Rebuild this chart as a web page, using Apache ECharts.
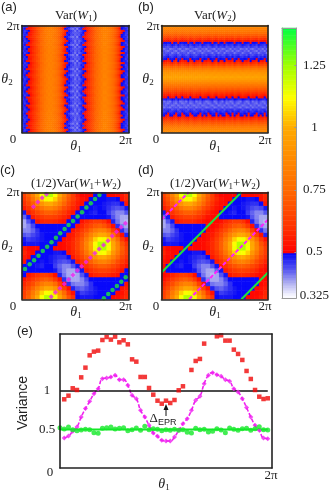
<!DOCTYPE html>
<html><head><meta charset="utf-8">
<style>html,body{margin:0;padding:0;background:#fff}#c{width:332px;height:492px}</style>
<script src="https://cdn.jsdelivr.net/npm/echarts@6/dist/echarts.min.js"></script>
</head><body><div id="c"></div>
<script>
// Panel (a): Var(W1) by theta1 column, four read-off row profiles
const varW1a = [.47,.46,.49,.52,.55,.58,.62,.66,.7,.74,.77,.8,.82,.83,.83,.82,.8,.77,.73,.68,.62,.55,.49,.47,.45,.43,.43,.43,.44,.46,.49,.53,.56,.6,.65,.69,.73,.76,.79,.82,.84,.84,.83,.81,.78,.75,.71,.66,.6,.53,.49,.46,.45];
const varW1b = [.46,.48,.52,.54,.57,.6,.63,.68,.71,.75,.78,.8,.83,.82,.84,.81,.79,.76,.72,.66,.59,.49,.48,.45,.42,.41,.44,.40,.46,.47,.52,.55,.58,.62,.66,.7,.74,.75,.8,.81,.85,.85,.82,.8,.77,.74,.69,.63,.55,.49,.47,.47,.44];
const varW1c = [.48,.45,.47,.49,.53,.57,.61,.65,.7,.73,.76,.81,.81,.84,.82,.83,.81,.78,.74,.7,.64,.57,.52,.48,.46,.44,.41,.45,.42,.45,.48,.49,.54,.59,.64,.68,.72,.77,.78,.83,.83,.83,.84,.82,.79,.76,.72,.67,.61,.55,.51,.47,.46];
const varW1d = [.45,.47,.46,.51,.54,.59,.63,.66,.69,.75,.77,.79,.82,.84,.83,.82,.79,.78,.74,.69,.6,.53,.47,.49,.44,.45,.42,.44,.43,.48,.46,.51,.58,.61,.66,.68,.74,.76,.8,.81,.85,.85,.83,.81,.78,.74,.7,.65,.58,.49,.48,.45,.46];
const rowOrderA = [0,2,1,3,1,0,2,3,0,1,3,2,0,1,2,0,3,1,2,3,1,0,2,1,3,0,2,3,1,0,2,1,0,3,2,1,3,0,1,2,3,0,2,1,3,2,0,1,3,0,2,1,3];
// Panel (b): Var(W2) by theta2 row bottom to top, four read-off column profiles
const varW2a = [.87,.85,.82,.77,.72,.67,.61,.56,.52,.49,.47,.45,.43,.42,.42,.43,.48,.52,.56,.6,.65,.7,.75,.8,.85,.9,.94,.96,.95,.92,.88,.82,.75,.67,.6,.54,.49,.47,.45,.43,.42,.43,.44,.47,.49,.54,.6,.67,.72,.77,.81,.84,.87];
const varW2b = [.86,.86,.81,.76,.7,.65,.58,.53,.49,.47,.46,.43,.44,.41,.44,.45,.49,.54,.58,.62,.66,.71,.76,.79,.86,.89,.95,.96,.94,.93,.87,.81,.73,.64,.56,.49,.48,.45,.44,.41,.44,.42,.46,.48,.52,.57,.63,.69,.73,.78,.82,.83,.88];
const varW2c = [.88,.84,.83,.78,.73,.68,.63,.58,.54,.51,.48,.46,.42,.44,.41,.42,.46,.49,.53,.58,.64,.69,.74,.81,.84,.91,.93,.97,.95,.91,.88,.83,.76,.69,.63,.56,.51,.48,.46,.44,.41,.44,.43,.45,.48,.52,.58,.65,.71,.76,.8,.84,.86];
const varW2d = [.86,.85,.82,.77,.71,.66,.6,.55,.49,.48,.45,.46,.41,.43,.43,.41,.47,.51,.55,.59,.66,.71,.75,.79,.85,.9,.94,.98,.93,.92,.89,.82,.74,.66,.59,.52,.48,.46,.43,.44,.43,.41,.45,.46,.49,.53,.61,.66,.72,.78,.81,.84,.87];
const colOrderB = [1,3,0,2,3,1,0,2,1,3,2,0,3,1,2,0,1,3,0,2,1,0,3,2,0,1,3,2,1,0,3,1,2,0,3,2,1,0,2,3,1,0,3,2,1,3,0,2,1,0,3,2,1];
// Panel (c): (1/2)Var(W1+W2) measured, rows bottom to top
const varSumC = [
[.64,.72,.85,.99,1.12,1.22,1.22,1.13,.98,.84,.69,.60,.49,.48,.48,.48,.49,.49,.49,.49,.51,.52,.55,.58],
[.63,.70,.81,.92,1.05,1.12,1.13,1.05,.91,.76,.62,.53,.48,.45,.46,.47,.48,.49,.49,.49,.49,.51,.53,.57],
[.60,.66,.74,.84,.92,.99,.98,.91,.78,.64,.53,.47,.43,.42,.44,.46,.48,.49,.49,.49,.49,.49,.53,.55],
[.57,.62,.67,.74,.81,.85,.84,.76,.64,.53,.46,.41,.40,.40,.42,.46,.49,.49,.49,.49,.49,.49,.49,.53],
[.53,.57,.62,.66,.70,.72,.69,.62,.53,.46,.40,.38,.38,.40,.44,.49,.49,.49,.49,.49,.49,.49,.49,.49],
[.49,.53,.57,.60,.63,.63,.60,.53,.47,.41,.38,.37,.38,.43,.48,.54,.57,.58,.58,.57,.55,.53,.49,.49],
[.49,.49,.49,.49,.49,.49,.49,.48,.43,.40,.38,.38,.42,.48,.55,.59,.62,.64,.64,.63,.60,.57,.53,.49],
[.49,.49,.49,.48,.47,.49,.49,.45,.42,.40,.40,.43,.48,.55,.60,.65,.69,.72,.72,.70,.66,.62,.57,.53],
[.53,.49,.49,.49,.48,.49,.48,.46,.44,.43,.44,.48,.55,.60,.66,.72,.79,.84,.85,.81,.74,.67,.62,.57],
[.55,.52,.49,.49,.49,.49,.48,.47,.46,.46,.49,.54,.59,.65,.72,.83,.91,.98,.99,.92,.84,.74,.66,.60],
[.57,.53,.51,.49,.49,.49,.49,.48,.48,.49,.53,.57,.62,.69,.79,.91,1.05,1.13,1.12,1.05,.92,.81,.70,.63],
[.55,.51,.51,.51,.49,.49,.49,.51,.51,.52,.54,.58,.64,.72,.84,.98,1.13,1.22,1.22,1.12,.99,.85,.72,.63],
[.49,.48,.48,.48,.49,.49,.49,.49,.51,.52,.55,.58,.64,.72,.85,.99,1.12,1.22,1.22,1.13,.98,.84,.69,.60],
[.48,.45,.46,.47,.48,.49,.49,.49,.49,.51,.53,.57,.63,.70,.81,.92,1.05,1.12,1.13,1.05,.91,.76,.62,.53],
[.43,.42,.44,.46,.48,.49,.49,.49,.49,.49,.53,.55,.60,.66,.74,.84,.92,.99,.98,.91,.78,.64,.53,.47],
[.40,.40,.42,.46,.49,.49,.49,.49,.49,.49,.49,.53,.57,.62,.67,.74,.81,.85,.84,.76,.64,.53,.46,.41],
[.38,.40,.44,.49,.49,.49,.49,.49,.49,.49,.49,.49,.53,.57,.62,.66,.70,.72,.69,.62,.53,.46,.40,.38],
[.38,.43,.48,.54,.57,.58,.58,.57,.55,.53,.49,.49,.49,.53,.57,.60,.63,.63,.60,.53,.47,.41,.38,.37],
[.42,.48,.55,.59,.62,.64,.64,.63,.60,.57,.53,.49,.49,.49,.49,.49,.49,.49,.49,.48,.43,.40,.38,.38],
[.48,.55,.60,.65,.69,.72,.72,.70,.66,.62,.57,.53,.49,.49,.49,.48,.47,.49,.49,.45,.42,.40,.40,.43],
[.55,.60,.66,.72,.79,.84,.85,.81,.74,.67,.62,.57,.53,.49,.49,.49,.48,.49,.48,.46,.44,.43,.44,.48],
[.59,.65,.72,.83,.91,.98,.99,.92,.84,.74,.66,.60,.55,.52,.49,.49,.49,.49,.48,.47,.46,.46,.49,.54],
[.62,.69,.79,.91,1.05,1.13,1.12,1.05,.92,.81,.70,.63,.57,.53,.51,.49,.49,.49,.49,.48,.48,.49,.53,.57],
[.64,.72,.84,.98,1.13,1.22,1.22,1.12,.99,.85,.72,.63,.55,.51,.51,.51,.49,.49,.49,.51,.51,.52,.54,.58]
];
// Panel (d): (1/2)Var(W1+W2) theory, rows bottom to top
const varSumD = [
[.64,.72,.85,.99,1.12,1.22,1.22,1.13,.98,.84,.69,.60,.49,.48,.48,.48,.49,.49,.49,.51,.51,.52,.55,.58],
[.63,.70,.81,.92,1.05,1.12,1.13,1.05,.91,.76,.62,.53,.48,.45,.46,.47,.48,.49,.49,.49,.51,.51,.53,.57],
[.60,.66,.74,.84,.92,.99,.98,.91,.78,.64,.53,.47,.43,.42,.44,.46,.48,.49,.49,.49,.49,.51,.53,.55],
[.57,.62,.67,.74,.81,.85,.84,.76,.64,.53,.46,.41,.40,.40,.42,.46,.49,.49,.49,.49,.49,.49,.51,.53],
[.53,.57,.62,.66,.70,.72,.69,.62,.53,.46,.40,.38,.38,.40,.44,.49,.49,.49,.49,.49,.49,.49,.51,.51],
[.51,.53,.57,.60,.63,.63,.60,.53,.47,.41,.38,.37,.38,.43,.48,.54,.57,.58,.58,.57,.55,.53,.51,.51],
[.51,.49,.49,.49,.49,.49,.49,.48,.43,.40,.38,.38,.42,.48,.55,.59,.62,.64,.64,.63,.60,.57,.53,.51],
[.51,.49,.49,.48,.47,.49,.49,.45,.42,.40,.40,.43,.48,.55,.60,.65,.69,.72,.72,.70,.66,.62,.57,.53],
[.53,.51,.49,.49,.48,.49,.48,.46,.44,.43,.44,.48,.55,.60,.66,.72,.79,.84,.85,.81,.74,.67,.62,.57],
[.55,.52,.51,.49,.49,.49,.48,.47,.46,.46,.49,.54,.59,.65,.72,.83,.91,.98,.99,.92,.84,.74,.66,.60],
[.57,.53,.51,.51,.49,.49,.49,.48,.48,.49,.53,.57,.62,.69,.79,.91,1.05,1.13,1.12,1.05,.92,.81,.70,.63],
[.55,.51,.51,.51,.51,.49,.51,.51,.51,.52,.54,.58,.64,.72,.84,.98,1.13,1.22,1.22,1.12,.99,.85,.72,.63],
[.49,.48,.48,.48,.49,.49,.49,.51,.51,.52,.55,.58,.64,.72,.85,.99,1.12,1.22,1.22,1.13,.98,.84,.69,.60],
[.48,.45,.46,.47,.48,.49,.49,.49,.51,.51,.53,.57,.63,.70,.81,.92,1.05,1.12,1.13,1.05,.91,.76,.62,.53],
[.43,.42,.44,.46,.48,.49,.49,.49,.49,.51,.53,.55,.60,.66,.74,.84,.92,.99,.98,.91,.78,.64,.53,.47],
[.40,.40,.42,.46,.49,.49,.49,.49,.49,.49,.51,.53,.57,.62,.67,.74,.81,.85,.84,.76,.64,.53,.46,.41],
[.38,.40,.44,.49,.49,.49,.49,.49,.49,.49,.51,.51,.53,.57,.62,.66,.70,.72,.69,.62,.53,.46,.40,.38],
[.38,.43,.48,.54,.57,.58,.58,.57,.55,.53,.51,.51,.51,.53,.57,.60,.63,.63,.60,.53,.47,.41,.38,.37],
[.42,.48,.55,.59,.62,.64,.64,.63,.60,.57,.53,.51,.51,.49,.49,.49,.49,.49,.49,.48,.43,.40,.38,.38],
[.48,.55,.60,.65,.69,.72,.72,.70,.66,.62,.57,.53,.51,.49,.49,.48,.47,.49,.49,.45,.42,.40,.40,.43],
[.55,.60,.66,.72,.79,.84,.85,.81,.74,.67,.62,.57,.53,.51,.49,.49,.48,.49,.48,.46,.44,.43,.44,.48],
[.59,.65,.72,.83,.91,.98,.99,.92,.84,.74,.66,.60,.55,.52,.51,.49,.49,.49,.48,.47,.46,.46,.49,.54],
[.62,.69,.79,.91,1.05,1.13,1.12,1.05,.92,.81,.70,.63,.57,.53,.51,.51,.49,.49,.49,.48,.48,.49,.53,.57],
[.64,.72,.84,.98,1.13,1.22,1.22,1.12,.99,.85,.72,.63,.55,.51,.51,.51,.51,.49,.51,.51,.51,.52,.54,.58]
];
// Panel (c) measured points, fractions of 2*pi
const cGreenX = [.028,.072,.113,.154,.194,.235,.276,.317,.357,.398,.436,.476,.52,.561,.602,.643,.683,.724,.765,.806,.846,.887,.928,.969];
const cGreenY = [.283,.327,.364,.408,.452,.492,.533,.576,.617,.657,.695,.732,.773,.813,.857,.897,.938,.975,.009,.05,.087,.125,.165,.206];
const cMagX = [.273,.313,.354,.395,.436,.476,.517,.558,.599,.639,.68,.721,.762,.803,.843,.884,.925,.966,.107,.147,.188,.229];
const cMagY = [.025,.065,.103,.143,.184,.227,.268,.308,.349,.389,.43,.47,.508,.548,.592,.632,.673,.71,.866,.91,.95,.981];
// Panel (d) lines, fractions of 2*pi
const dGreenLines = [[[0,.25],[.75,1]],[[.75,0],[1,.25]]];
const dMagLines = [[[.26,0],[1,.745]],[[0,.745],[.255,1]]];
// Panel (e), samples 1..49 for red and magenta, 0..49 for green
const redVals = [.892,.939,1.035,1.013,1.177,1.303,1.463,1.511,1.524,1.662,1.701,1.667,1.706,1.632,1.658,1.606,1.411,1.381,1.182,1.182,1.039,.952,.874,.835,.874,.844,.883,1.009,1.061,null,1.273,1.39,1.416,1.615,null,null,1.71,1.723,1.654,1.654,1.537,1.481,1.403,1.26,1.156,1.013,.926,.896,.905];
const magVals = [.39,.416,.476,.532,.662,.771,.866,.965,1.03,1.16,1.169,1.182,1.203,1.147,1.147,1.074,.944,.9,.749,.662,.554,.455,.411,.359,.351,.351,.403,.489,.576,.641,.749,.879,.931,1.095,1.203,1.238,1.212,1.19,1.147,1.126,1.03,.987,.9,.784,.662,.554,.489,.39,.381];
const greenVals = [.524,.506,.532,.498,.485,.494,.502,.498,.459,.45,.515,.524,.532,.506,.515,.524,.485,.498,.519,.489,.541,.498,.511,.502,.485,.498,.489,.502,.489,.498,.463,.455,.515,.498,.502,.468,.476,.511,.494,.459,.519,.502,.489,.511,.515,.489,.511,.537,.498,.494];
const refOne = [1,1], refHalf = [.5,.5];
// Tick labels
const colorTicks = [.325,.5,.75,1,1.25];
const varianceTicks = [.5,1];
const twoPi = '2π', zero = '0';
// Colour scale
const colorStops = [[.315,'#ffffff'],[.33,'#f8f8ff'],[.38,'#b0b0f0'],[.43,'#5a5af0'],[.49,'#1010f4'],[.5,'#0000ff'],[.5,'#ff0000'],[.6,'#ff3000'],[.75,'#ff6800'],[.9,'#ff9000'],[1,'#ffaa00'],[1.12,'#ffff00'],[1.25,'#a0ff00'],[1.4,'#00ff40']];

function hex(c){return [1,3,5].map(i=>parseInt(c.substr(i,2),16));}
function colorAt(v){
  for(let i=1;i<colorStops.length;i++){
    const a=colorStops[i-1],b=colorStops[i];
    if(v<=b[0] && b[0]>a[0]){const t=Math.max(0,(v-a[0])/(b[0]-a[0]));const p=hex(a[1]),q=hex(b[1]);
      return 'rgb('+p.map((x,k)=>Math.round(x+(q[k]-x)*t)).join(',')+')';}
  }
  return colorStops[colorStops.length-1][1];
}
const pieces=[];
for(let k=0;k<120;k++){const lo=+(.29+k*.01).toFixed(2),hi=+(lo+.01).toFixed(2);pieces.push({gte:lo,lt:hi,color:colorAt(lo+.005)});}

const grids=[{left:22,top:25.5,width:107,height:107},{left:161.5,top:25.5,width:106.5,height:107},{left:22,top:192.3,width:107,height:107},{left:161.5,top:192.3,width:106.5,height:107},{left:282,top:28,width:16.5,height:270},{left:60,top:334,width:212,height:134}];
const xAxis=[],yAxis=[],series=[];
const range=n=>Array.from({length:n},(_,i)=>i);
const hidden={axisTick:{show:false},axisLabel:{show:false},splitLine:{show:false}};
function line(c,w){return {show:true,onZero:false,lineStyle:{color:c,width:w}};}
function panelAxes(g,nx,ny,c,w){
  xAxis.push({type:'category',gridIndex:g,data:range(nx).map(String),position:'bottom',axisLine:line(c,w),z:10,...hidden});
  xAxis.push({type:'value',gridIndex:g,min:0,max:1,position:'top',axisLine:line(c,w),z:10,...hidden});
  yAxis.push({type:'category',gridIndex:g,data:range(ny).map(String),position:'left',axisLine:line(c,w),z:10,...hidden});
  yAxis.push({type:'value',gridIndex:g,min:0,max:1,position:'right',axisLine:line(c,w),z:10,...hidden});
}
const heat=(g,data)=>series.push({type:'heatmap',xAxisIndex:2*g,yAxisIndex:2*g,data,itemStyle:{borderWidth:0},emphasis:{disabled:true},progressive:0,silent:true});
panelAxes(0,53,53,'#222',1.6);
panelAxes(1,53,53,'#222',1.6);
panelAxes(2,24,24,'#222',1.6);
panelAxes(3,24,24,'#222',1.6);
const profA=[varW1a,varW1b,varW1c,varW1d],profB=[varW2a,varW2b,varW2c,varW2d];
const dA=[],dB=[];
rowOrderA.forEach((p,k)=>profA[p].forEach((v,i)=>dA.push([i,k,v])));
colOrderB.forEach((p,i)=>profB[p].forEach((v,k)=>dB.push([i,k,v])));
heat(0,dA);heat(1,dB);
const flatten=m=>{const o=[];m.forEach((r,k)=>r.forEach((v,i)=>o.push([i,k,v])));return o;};
heat(2,flatten(varSumC));heat(3,flatten(varSumD));
// colour bar
const cbN=108,cbMin=.315,cbMax=1.4;
panelAxes(4,1,cbN,'#999',1);
yAxis[9]={type:'value',gridIndex:4,min:cbMin,max:cbMax,position:'right',z:10,axisLine:line('#999',1),splitLine:{show:false},
  axisTick:{show:true,inside:true,length:2,lineStyle:{color:'#999'},customValues:colorTicks.slice(1)},
  axisLabel:{show:true,customValues:colorTicks,align:'center',margin:18,fontFamily:'Liberation Serif',fontSize:13,color:'#222',formatter:v=>String(v)}};
heat(4,range(cbN).map(k=>[0,k,cbMin+(k+.5)*(cbMax-cbMin)/cbN]));
// panel e axes
xAxis.push({type:'category',gridIndex:5,boundaryGap:false,data:range(51).map(String),position:'bottom',axisLine:line('#222',1.6),z:10,...hidden});
xAxis.push({type:'value',gridIndex:5,min:0,max:1,position:'top',axisLine:line('#222',1.6),z:10,...hidden});
yAxis.push({type:'value',gridIndex:5,min:0,max:1.74,position:'left',axisLine:line('#222',1.6),z:10,splitLine:{show:false},axisTick:{show:false},
  axisLabel:{show:true,customValues:varianceTicks,align:'center',margin:13,fontFamily:'Liberation Serif',fontSize:13,color:'#222',formatter:v=>String(v)}});
yAxis.push({type:'value',gridIndex:5,min:0,max:1.74,position:'right',axisLine:line('#222',1.6),z:10,...hidden});
// overlays c
series.push({type:'scatter',xAxisIndex:5,yAxisIndex:5,symbol:'circle',symbolSize:4.5,itemStyle:{color:'#1ee83a'},data:cGreenX.map((x,i)=>[x,cGreenY[i]]),silent:true,z:5});
series.push({type:'scatter',xAxisIndex:5,yAxisIndex:5,symbol:'diamond',symbolSize:5,itemStyle:{color:'#f020f0'},data:cMagX.map((x,i)=>[x,cMagY[i]]),silent:true,z:5});
// overlays d
dGreenLines.forEach(l=>series.push({type:'line',xAxisIndex:7,yAxisIndex:7,data:l,symbol:'none',lineStyle:{color:'#1ee040',width:2},silent:true,z:5}));
dMagLines.forEach(l=>series.push({type:'line',xAxisIndex:7,yAxisIndex:7,data:l,symbol:'none',lineStyle:{color:'#ff22ff',width:2,type:[4,2]},silent:true,z:5}));
// panel e series
const at=(arr,o)=>arr.map((v,i)=>v==null?null:[i+o,v]).filter(Boolean);
const X=10,Y=10;
series.push({type:'line',xAxisIndex:X,yAxisIndex:Y,data:at(magVals,1),symbol:'none',smooth:true,lineStyle:{color:'#f020f0',width:1.6,type:[4,2]},silent:true,z:3});
series.push({type:'line',xAxisIndex:X,yAxisIndex:Y,data:[[0,refHalf[0]],[49,refHalf[1]]],symbol:'none',lineStyle:{color:'#14e828',width:2},silent:true,z:3});
series.push({type:'line',xAxisIndex:X,yAxisIndex:Y,data:[[0,refOne[0]],[49,refOne[1]]],symbol:'none',lineStyle:{color:'#111',width:1.4},silent:true,z:4});
series.push({type:'scatter',xAxisIndex:X,yAxisIndex:Y,symbol:'rect',symbolSize:4.5,itemStyle:{color:'#f00808'},data:at(redVals,1),silent:true,z:5});
series.push({type:'scatter',xAxisIndex:X,yAxisIndex:Y,symbol:'diamond',symbolSize:5,itemStyle:{color:'#f020f0'},data:at(magVals,1),silent:true,z:5});
series.push({type:'scatter',xAxisIndex:X,yAxisIndex:Y,symbol:'circle',symbolSize:5,itemStyle:{color:'#14e828'},data:at(greenVals,0),silent:true,z:6});

// text
const serif='Liberation Serif',sans='Liberation Sans';
const g=[];
function T(x,y,text,o={}){g.push({type:'text',x,y,rotation:o.rot||0,silent:true,z:20,style:{text,align:o.align||'center',verticalAlign:'middle',fontFamily:o.font||serif,fontSize:o.size||13,fontStyle:o.style||'normal',fill:o.fill||'#222',rich:o.rich}});}
const rich={a:{fontFamily:serif,fontSize:13,color:'#222',lineHeight:15,verticalAlign:'middle'},i:{fontFamily:serif,fontSize:13,fontStyle:'italic',color:'#222',lineHeight:15,verticalAlign:'middle'},s:{fontFamily:serif,fontSize:9,color:'#222',lineHeight:15,verticalAlign:'bottom'},e:{fontFamily:sans,fontSize:9,color:'#555',lineHeight:17,verticalAlign:'bottom'},t:{fontFamily:serif,fontSize:14,fontStyle:'italic',color:'#222',lineHeight:17,verticalAlign:'middle'},u:{fontFamily:serif,fontSize:9,color:'#222',lineHeight:17,verticalAlign:'bottom'}};
[['(a)',1,7],['(b)',138,7],['(c)',0,170],['(d)',138,170],['(e)',17,331]].forEach(p=>T(p[1],p[2],p[0],{align:'left',font:sans}));
T(76,16,'{a|Var(}{i|W}{s|1}{a|)}',{rich});T(215,16,'{a|Var(}{i|W}{s|2}{a|)}',{rich});
const sumTitle='{a|(1/2)Var(}{i|W}{s|1}{a|+}{i|W}{s|2}{a|)}';
T(76,184,sumTitle,{rich});T(215,184,sumTitle,{rich});
[[76,146,7,79,13,27,13,140,125.5,141],[215,146,148,79,153,27,156,140,265,141],[76,312,7,246,13,193,13,307,125.5,307],[215,312,148,246,153,193,156,307,265,307]].forEach(p=>{
  T(p[0],p[1],'{t|θ}{u|1}',{rich});T(p[2],p[3],'{t|θ}{u|2}',{rich});
  T(p[4],p[5],twoPi);T(p[6],p[7],zero);T(p[8],p[9],twoPi);
});
T(164,484,'{t|θ}{u|1}',{rich});T(271,476,twoPi);T(50,473,zero);
T(23,403,'Variance',{font:sans,size:14,rot:Math.PI/2});
T(163,419,'{a|Δ}{e|EPR}',{rich});
g.push({type:'line',silent:true,z:20,shape:{x1:166,y1:416,x2:166,y2:408},style:{stroke:'#111',lineWidth:1}});
g.push({type:'polygon',silent:true,z:20,shape:{points:[[166,404],[163.5,410],[168.5,410]]},style:{fill:'#111'}});

const chart=echarts.init(document.getElementById('c'),null,{renderer:'canvas'});
chart.setOption({animation:false,backgroundColor:'#fff',grid:grids,xAxis,yAxis,series,graphic:g,
  visualMap:{type:'piecewise',show:false,seriesIndex:[0,1,2,3,4],dimension:2,pieces}});
</script></body></html>
